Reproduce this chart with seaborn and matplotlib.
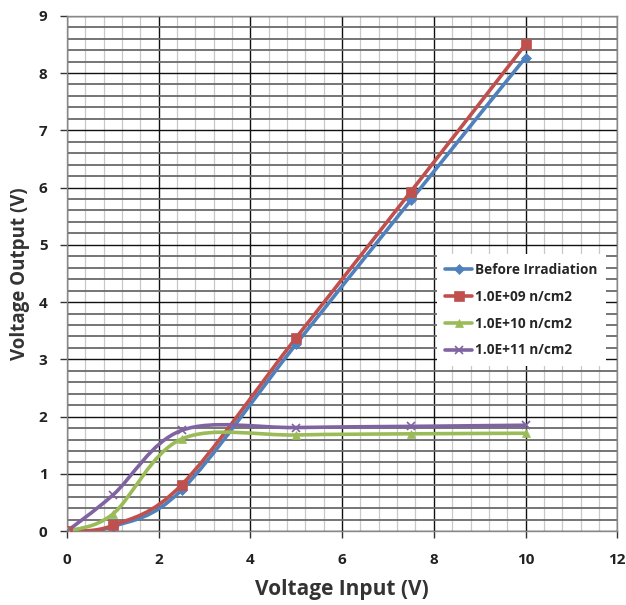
import numpy as np
import pandas as pd
import matplotlib
matplotlib.use("Agg")
import matplotlib.pyplot as plt
import seaborn as sns
from matplotlib.path import Path
from matplotlib.patches import PathPatch
from matplotlib.lines import Line2D
from matplotlib.ticker import MultipleLocator

# ---- data ----
v_in = [0, 1, 2.5, 5, 7.5, 10]
before = [0.0, 0.08, 0.72, 3.27, 5.78, 8.27]
e09 = [0.0, 0.10, 0.81, 3.38, 5.93, 8.50]
e10 = [0.0, 0.30, 1.61, 1.68, 1.70, 1.71]
e11 = [0.0, 0.63, 1.76, 1.81, 1.83, 1.85]
labels = ["Before Irradiation", "1.0E+09 n/cm2", "1.0E+10 n/cm2", "1.0E+11 n/cm2"]
series = [before, e09, e10, e11]
colors = ["#4F81BD", "#C0504D", "#9BBB59", "#8064A2"]
markers = ["D", "s", "^", "x"]
msizes = [5, 7, 6, 6]

sns.set_theme(style="white")
plt.rcParams['font.family'] = ['Open Sans', 'DejaVu Sans']

fig = plt.figure(figsize=(6.26, 6.05), dpi=100)
ax = fig.add_axes([0.107, 0.122, 0.879, 0.852])

# grid
ax.set_xlim(0, 12)
ax.set_ylim(0, 9)
ax.xaxis.set_major_locator(MultipleLocator(2))
ax.xaxis.set_minor_locator(MultipleLocator(0.4))
ax.yaxis.set_major_locator(MultipleLocator(1))
ax.yaxis.set_minor_locator(MultipleLocator(0.2))
ax.grid(which='minor', axis='x', color='#c8c8c8', lw=0.9, zorder=0)
ax.grid(which='minor', axis='y', color='#6a6a6a', lw=1.3, zorder=0)
ax.grid(which='major', axis='both', color='#111111', lw=1.0, zorder=0.5)
ax.set_axisbelow(True)
for s in ax.spines.values():
    s.set_color('#888888')
    s.set_linewidth(1.0)

def smooth_path(xs, ys):
    pts = np.column_stack([xs, ys]).astype(float)
    n = len(pts)
    verts = [pts[0]]
    codes = [Path.MOVETO]
    for i in range(n - 1):
        p0 = pts[i - 1] if i > 0 else pts[i]
        p1 = pts[i]
        p2 = pts[i + 1]
        p3 = pts[i + 2] if i + 2 < n else pts[i + 1]
        c1 = p1 + (p2 - p0) / 6.0
        c2 = p2 - (p3 - p1) / 6.0
        verts += [c1, c2, p2]
        codes += [Path.CURVE4] * 3
    return Path(verts, codes)

handles = []
for lab, ys, c, m, ms in zip(labels, series, colors, markers, msizes):
    patch = PathPatch(smooth_path(v_in, ys), facecolor='none', edgecolor=c, lw=2.6, zorder=3)
    ax.add_patch(patch)
    df = pd.DataFrame({"x": v_in, "y": ys})
    sns.lineplot(data=df, x="x", y="y", ax=ax, color=c, marker=m, markersize=ms,
                 linestyle='', markeredgecolor=c, markeredgewidth=1.2 if m == 'x' else 0.5,
                 zorder=4, legend=False)
    handles.append(Line2D([0], [0], color=c, lw=2.6, marker=m, markersize=ms,
                          markeredgecolor=c, markeredgewidth=1.2 if m == 'x' else 0.5))

ax.tick_params(axis='both', which='major', direction='out', length=5, width=1,
               color='#333333', labelsize=11)
ax.tick_params(axis='x', which='major', pad=11)
ax.tick_params(axis='y', which='major', pad=9)
ax.tick_params(axis='both', which='minor', length=0)
ax.tick_params(left=True, bottom=True)
for t in ax.get_xticklabels() + ax.get_yticklabels():
    t.set_fontweight('bold')
    t.set_color('#222222')

ax.set_xlabel("Voltage Input (V)", fontsize=15, fontweight='bold', color='#333333', labelpad=8)
ax.set_ylabel("Voltage Output (V)", fontsize=13.5, fontweight='bold', color='#333333', labelpad=6)

leg = ax.legend(handles, labels, loc='upper left', bbox_to_anchor=(0.66, 0.55),
                frameon=True, fancybox=False, framealpha=1, edgecolor='white',
                prop={'weight': 'bold', 'size': 9.8}, handlelength=2.0, handletextpad=0.2,
                labelspacing=0.95, borderpad=0.6)
leg.get_frame().set_linewidth(0)

fig.savefig("out.png", dpi=100)
